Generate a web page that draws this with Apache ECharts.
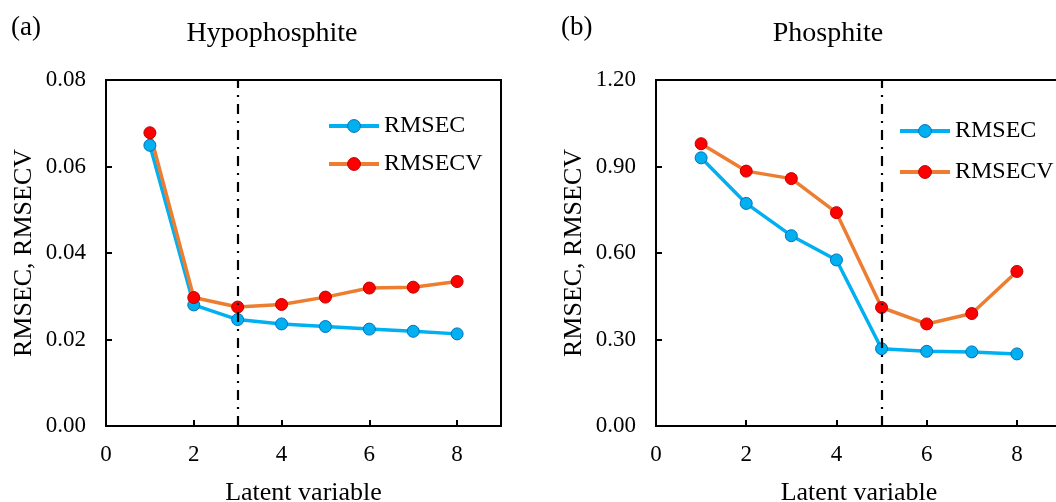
<!DOCTYPE html>
<html>
<head>
<meta charset="utf-8">
<script src="https://cdn.jsdelivr.net/npm/echarts@6/dist/echarts.min.js"></script>
<style>html,body{margin:0;padding:0;background:#fff;}#c{width:1056px;height:502px;}</style>
</head>
<body>
<div id="c"></div>
<script>
var xVals = [1, 2, 3, 4, 5, 6, 7, 8];
var hypoRMSEC  = [0.0649, 0.0280, 0.0246, 0.0236, 0.0230, 0.0224, 0.0219, 0.0213];
var hypoRMSECV = [0.0678, 0.0297, 0.0275, 0.0281, 0.0298, 0.0319, 0.0321, 0.0334];
var phosRMSEC  = [0.930, 0.772, 0.660, 0.576, 0.268, 0.259, 0.257, 0.250];
var phosRMSECV = [0.979, 0.884, 0.858, 0.740, 0.411, 0.354, 0.390, 0.536];
var optLV = [3, 5];
var titles = ['Hypophosphite', 'Phosphite'];
var panelLabels = ['(a)', '(b)'];
var yMax = [0.08, 1.2];
var yInt = [0.02, 0.3];

var FONT = 'Liberation Serif';
function pairs(v){ return xVals.map(function(x,i){ return [x, v[i]]; }); }

var grids = [
  {left: 106, top: 80, width: 395, height: 346, show: true, borderColor: '#000', borderWidth: 2, backgroundColor: 'transparent', outerBoundsMode: 'none', containLabel: false},
  {left: 656, top: 80, width: 406, height: 346, show: true, borderColor: '#000', borderWidth: 2, backgroundColor: 'transparent', outerBoundsMode: 'none', containLabel: false}
];
var xAxes = [0,1].map(function(i){
  return {
    type: 'value', gridIndex: i, min: 0, max: 9, interval: 2,
    name: 'Latent variable', nameLocation: 'middle', nameGap: 54,
    nameTextStyle: {fontFamily: FONT, fontSize: 26, color: '#000'},
    axisLine: {show: true, onZero: false, lineStyle: {color: '#000', width: 2}},
    axisTick: {show: true, inside: true, length: 6, lineStyle: {color: '#000', width: 2}},
    axisLabel: {fontFamily: FONT, fontSize: 23, color: '#000', margin: 17, showMaxLabel: false},
    splitLine: {show: false}
  };
});
var yAxes = [0,1].map(function(i){
  return {
    type: 'value', gridIndex: i, min: 0, max: yMax[i], interval: yInt[i],
    name: 'RMSEC, RMSECV', nameLocation: 'middle', nameGap: 69,
    nameTextStyle: {fontFamily: FONT, fontSize: 26, color: '#000'},
    axisLine: {show: true, lineStyle: {color: '#000', width: 2}},
    axisTick: {show: true, inside: true, length: 6, lineStyle: {color: '#000', width: 2}},
    axisLabel: {fontFamily: FONT, fontSize: 23, color: '#000', margin: 20,
      formatter: function(v){ return v.toFixed(2); }},
    splitLine: {show: false}
  };
});

function mkSeries(name, data, idx, lineColor, fill, border){
  return {
    name: name, type: 'line', xAxisIndex: idx, yAxisIndex: idx, data: pairs(data),
    symbol: 'circle', symbolSize: 12, showSymbol: true,
    lineStyle: {color: lineColor, width: 3.5},
    itemStyle: {color: fill, borderColor: border, borderWidth: 1},
    emphasis: {disabled: true}, animation: false, z: 3
  };
}
var BLUE = '#00B0F0', BLUE_B = '#0070C0', ORANGE = '#ED7D31', RED = '#FF0000', RED_B = '#C00000';
var series = [
  mkSeries('RMSEC', hypoRMSEC, 0, BLUE, BLUE, BLUE_B),
  mkSeries('RMSECV', hypoRMSECV, 0, ORANGE, RED, RED_B),
  mkSeries('RMSEC', phosRMSEC, 1, BLUE, BLUE, BLUE_B),
  mkSeries('RMSECV', phosRMSECV, 1, ORANGE, RED, RED_B)
];
[0,1].forEach(function(i){
  series.push({
    name: 'opt' + i, type: 'line', xAxisIndex: i, yAxisIndex: i, data: [], z: 10,
    markLine: {
      silent: true, symbol: 'none', animation: false,
      label: {show: false},
      lineStyle: {color: '#000', width: 2.2, type: [10, 7, 2, 7]},
      data: [{xAxis: optLV[i]}]
    }
  });
});

var legends = [
  {left: 322, top: 109, orient: 'vertical', itemGap: 14, itemWidth: 50, itemHeight: 16, data: ['RMSEC', 'RMSECV'],
   lineStyle: {width: 4}, itemStyle: {borderWidth: 1},
   textStyle: {fontFamily: FONT, fontSize: 24, color: '#000'}, selectedMode: false},
  {left: 893, top: 114, orient: 'vertical', itemGap: 17, itemWidth: 50, itemHeight: 16, data: ['RMSEC', 'RMSECV'],
   lineStyle: {width: 4}, itemStyle: {borderWidth: 1},
   textStyle: {fontFamily: FONT, fontSize: 24, color: '#000'}, selectedMode: false}
];

var graphics = [
  {type: 'text', left: 11, top: 14, style: {text: panelLabels[0], font: '27px "' + FONT + '"', fill: '#000'}},
  {type: 'text', left: 561, top: 14, style: {text: panelLabels[1], font: '27px "' + FONT + '"', fill: '#000'}},
  {type: 'text', x: 272, y: 34, style: {text: titles[0], font: '28px "' + FONT + '"', fill: '#000', textAlign: 'center', textVerticalAlign: 'middle'}},
  {type: 'text', x: 828, y: 34, style: {text: titles[1], font: '28px "' + FONT + '"', fill: '#000', textAlign: 'center', textVerticalAlign: 'middle'}}
];

var chart = echarts.init(document.getElementById('c'), null, {renderer: 'canvas'});
chart.setOption({
  animation: false,
  backgroundColor: '#fff',
  grid: grids, xAxis: xAxes, yAxis: yAxes, series: series, legend: legends, graphic: graphics
});
</script>
</body>
</html>
